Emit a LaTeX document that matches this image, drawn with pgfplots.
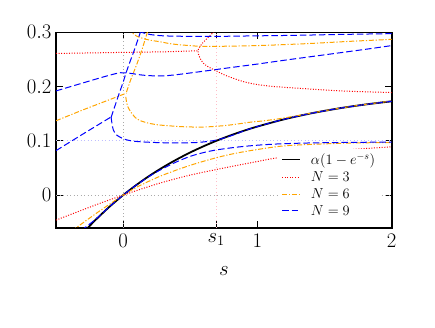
\documentclass[border=0pt]{standalone}
\usepackage{pgfplots}
\pgfplotsset{compat=1.18}
\definecolor{mplorange}{RGB}{255,165,0}
\definecolor{gridgray}{RGB}{170,170,170}
\definecolor{gridpink}{RGB}{255,190,200}
\definecolor{gridblue}{RGB}{190,190,255}
\pgfplotsset{
 redl/.style={red, line width=1pt, dash pattern=on 1pt off 1.6pt},
 orl/.style={mplorange, line width=1pt, dash pattern=on 5pt off 1.8pt on 1.2pt off 1.8pt},
 bll/.style={blue, line width=1pt, dash pattern=on 6.5pt off 3pt},
 gl/.style={line width=0.8pt, dash pattern=on 1pt off 2.5pt, forget plot},
}
\begin{document}
\begin{tikzpicture}
\begin{axis}[
 scale only axis, width=335.7pt, height=195.4pt,
 xmin=-0.5, xmax=2, ymin=-0.06, ymax=0.3,
 xtick={0,0.693147,1,2}, xticklabels={$0$,$s_1$,$1$,$2$},
 ytick={0,0.1,0.2,0.3}, yticklabels={$0$,$0.1$,$0.2$,$0.3$},
 tick align=inside, tick pos=both, major tick length=7pt,
 major tick style={black, line width=1.1pt},
 axis line style={line width=1.6pt},
 tick label style={font=\fontsize{20.74}{24}\selectfont},
 yticklabel style={xshift=-1pt},
 xticklabel style={yshift=-2.6pt},
 xlabel={$s$},
 xlabel style={font=\fontsize{20.74}{24}\selectfont, at={(axis description cs:0.5,0)}, anchor=center, yshift=-43pt},
 legend style={draw=none, fill=white, at={(axis cs:1.153,0.0849)}, anchor=north west,
   font=\fontsize{14.4}{17}\selectfont, row sep=1.6pt, inner xsep=3pt, inner ysep=2pt},
 legend cell align=left,
 legend image code/.code={\draw[#1] (0pt,0pt) -- (18pt,0pt); \path (26pt,0pt);},
]
% reference lines
\addplot[gl, gridgray] coordinates {(0,-0.06) (0,0.3)};
\addplot[gl, gridgray] coordinates {(-0.5,0) (2,0)};
\addplot[gl, gridpink] coordinates {(0.693147,-0.06) (0.693147,0.3)};
\addplot[gl, gridblue] coordinates {(-0.5,0.1) (2,0.1)};
% alpha(1-e^{-s})
\addplot[black, line width=1.8pt, smooth] coordinates {(-0.3,-0.0700) (-0.262,-0.0599) (-0.2,-0.0443) (-0.1,-0.0210) (0,0) (0.1,0.0190) (0.2,0.0363) (0.3,0.0518) (0.4,0.0659) (0.5,0.0787) (0.6,0.0902) (0.7,0.1007) (0.8,0.1101) (0.9,0.1187) (1.0,0.1264) (1.2,0.1398) (1.4,0.1507) (1.6,0.1596) (1.8,0.1669) (2.0,0.1729)};
\addlegendentry{$\alpha(1-e^{-s})$}
% N = 3
\addplot[redl, smooth] coordinates {(-0.5,-0.046) (-0.3,-0.027) (-0.15,-0.013) (0,0) (0.15,0.0125) (0.3,0.024) (0.5,0.037) (0.75,0.050) (1.0,0.062) (1.13,0.068) (1.4,0.077) (1.7,0.084) (2,0.089)};
\addlegendentry{$N=3$}
\addplot[redl, forget plot] coordinates {(-0.5,0.261) (0,0.263) (0.3,0.264) (0.557,0.266)};
\addplot[redl, smooth, forget plot] coordinates {(0.69,0.305) (0.672,0.3) (0.63,0.29) (0.595,0.281) (0.57,0.273) (0.557,0.266) (0.563,0.258) (0.578,0.25) (0.598,0.243) (0.63,0.237) (0.685,0.230) (0.75,0.222) (0.846,0.213) (0.93,0.207) (1.02,0.203) (1.13,0.2) (1.3,0.197) (1.626,0.192) (2,0.189)};
% N = 6
\addplot[orl, smooth] coordinates {(-0.38,-0.066) (-0.349,-0.06) (-0.2,-0.0335) (-0.1,-0.0165) (0,0) (0.1,0.0145) (0.277,0.035) (0.5,0.055) (0.722,0.0707) (0.9,0.080) (1.168,0.090) (1.4,0.0935) (1.7,0.096) (2,0.097)};
\addlegendentry{$N=6$}
\addplot[orl, forget plot] coordinates {(-0.5,0.137) (-0.3,0.157) (-0.1,0.176) (0.025,0.188)};
\addplot[orl, smooth, forget plot] coordinates {(0.02,0.181) (0.025,0.172) (0.035,0.163) (0.055,0.154) (0.09,0.143) (0.13,0.137) (0.2,0.132) (0.28,0.129) (0.45,0.126) (0.6,0.1255) (0.75,0.128) (0.85,0.131) (0.95,0.1345) (1.05,0.137) (1.168,0.141) (1.3,0.1465) (1.5,0.1555) (1.7,0.1635) (2,0.1735)};
\addplot[orl, smooth, forget plot] coordinates {(0.025,0.19) (0.06,0.215) (0.1,0.24) (0.14,0.268) (0.18,0.3) (0.19,0.31)};
\addplot[orl, smooth, forget plot] coordinates {(0.06,0.31) (0.065,0.3) (0.1,0.293) (0.15,0.2885) (0.2,0.2855) (0.277,0.2825) (0.35,0.279) (0.425,0.277) (0.55,0.2745) (0.65,0.274) (0.8,0.2745) (1.0,0.2755) (1.168,0.277) (1.4,0.2795) (1.7,0.2835) (2,0.287)};
% N = 9
\addplot[bll, smooth] coordinates {(-0.31,-0.066) (-0.285,-0.06) (-0.2,-0.0435) (-0.1,-0.0208) (0,0) (0.1,0.0188) (0.2,0.0355) (0.3,0.0495) (0.4,0.0615) (0.5,0.0715) (0.6,0.0785) (0.7,0.0835) (0.85,0.0885) (1.0,0.092) (1.168,0.0945) (1.4,0.0962) (1.7,0.0972) (2,0.0978)};
\addlegendentry{$N=9$}
\addplot[bll, forget plot] coordinates {(-0.5,0.082) (-0.3,0.1125) (-0.09,0.144)};
\addplot[bll, smooth, forget plot] coordinates {(-0.09,0.144) (-0.083,0.132) (-0.073,0.12) (-0.05,0.111) (0,0.104) (0.06,0.1) (0.15,0.098) (0.3,0.0965) (0.45,0.0963) (0.55,0.097) (0.65,0.0995) (0.72,0.103) (0.78,0.1075) (0.85,0.1135) (0.9,0.1185) (1,0.1264) (1.2,0.1398) (1.4,0.1507) (1.6,0.1596) (1.8,0.1669) (2,0.1729)};
\addplot[bll, smooth, forget plot] coordinates {(-0.09,0.143) (-0.06,0.165) (-0.03,0.187) (0.0,0.208) (0.02,0.224) (0.05,0.245) (0.09,0.272) (0.128,0.3) (0.135,0.305)};
\addplot[bll, smooth, forget plot] coordinates {(-0.5,0.192) (-0.35,0.203) (-0.2,0.214) (-0.1,0.221) (-0.02,0.2255) (0.05,0.2245) (0.15,0.221) (0.28,0.2195) (0.4,0.222) (0.574,0.2275) (0.8,0.235) (1.0,0.2415) (1.2,0.2485) (1.5,0.2585) (1.8,0.2685) (2,0.2755)};
\addplot[bll, smooth, forget plot] coordinates {(0.13,0.305) (0.14,0.3) (0.2,0.296) (0.3,0.2935) (0.5,0.2925) (0.7,0.2925) (1.0,0.2935) (1.3,0.2945) (1.6,0.296) (2,0.2975)};
\node[anchor=west, font=\fontsize{20.74}{24}\selectfont] at (axis cs:2,0.1) {$c$};
\end{axis}
\path ([shift={(-56pt,-99.3pt)}]current axis.south west) rectangle ([shift={(43.3pt,32.3pt)}]current axis.north east);
\end{tikzpicture}
\end{document}
